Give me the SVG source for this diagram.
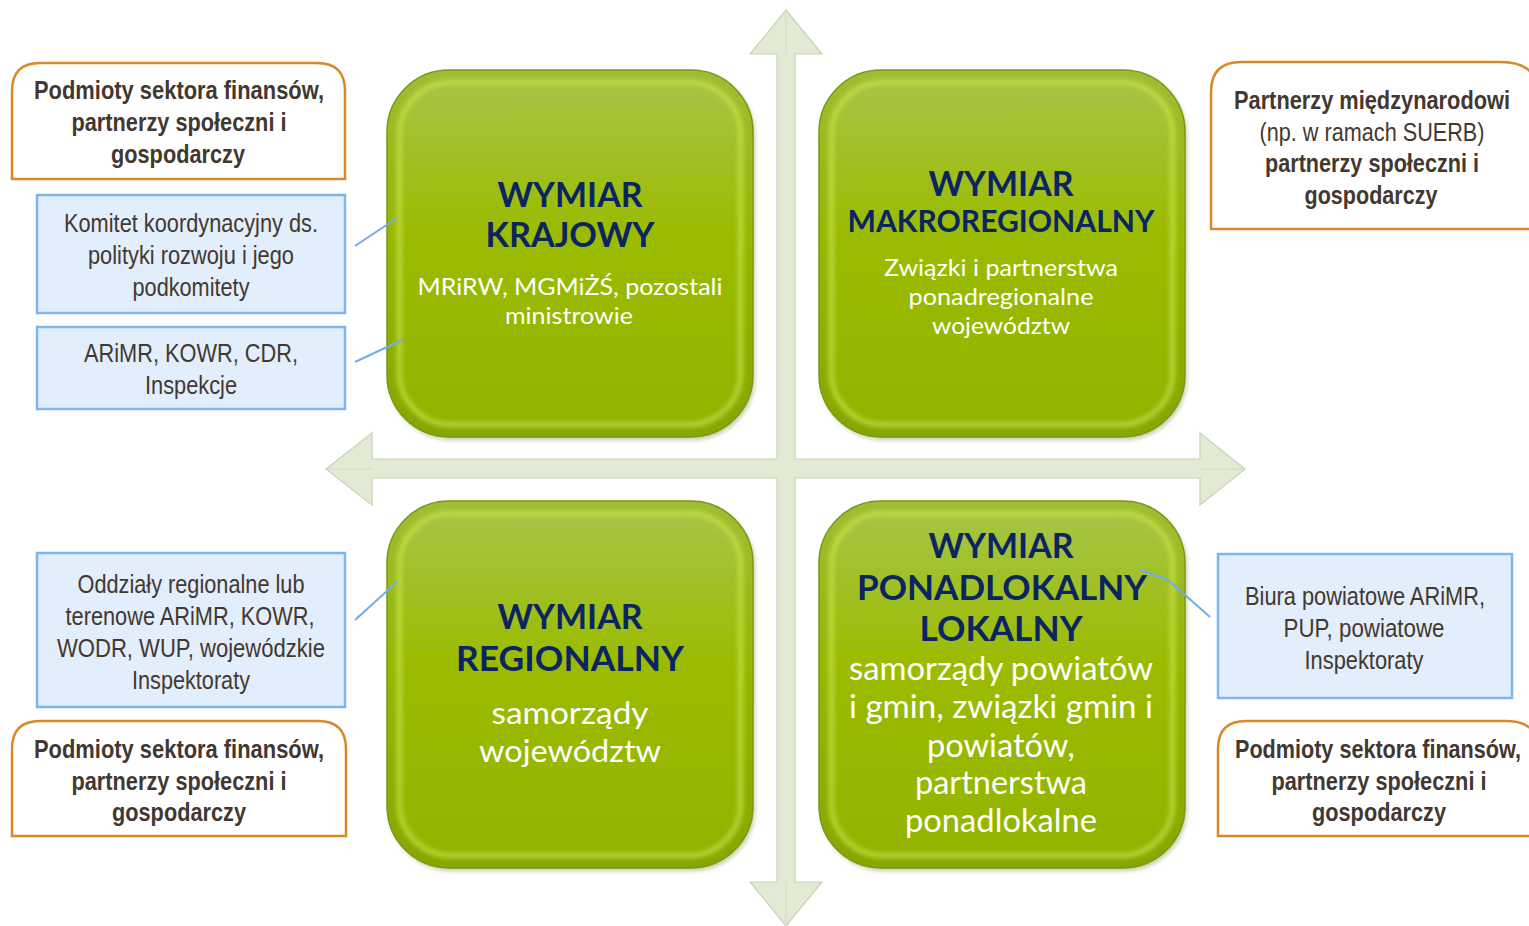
<svg xmlns="http://www.w3.org/2000/svg" width="1529" height="926" viewBox="0 0 1529 926">
<defs>
<linearGradient id="gOuter" x1="0" y1="0" x2="0" y2="1">
<stop offset="0" stop-color="#9fbd35"/>
<stop offset="0.5" stop-color="#95b600"/>
<stop offset="1" stop-color="#86a600"/>
</linearGradient>
<linearGradient id="gInner" x1="0" y1="0" x2="0" y2="1">
<stop offset="0" stop-color="#a6c445"/>
<stop offset="0.45" stop-color="#9bbb00"/>
<stop offset="1" stop-color="#93b400"/>
</linearGradient>
<filter id="blur" x="-10%" y="-10%" width="120%" height="120%"><feGaussianBlur stdDeviation="2.5"/></filter>
<filter id="shadow" x="-10%" y="-10%" width="120%" height="120%"><feGaussianBlur stdDeviation="2"/></filter>
<style>
.side{font-family:"Liberation Sans",Arial,sans-serif;font-size:26px;fill:#433830;text-anchor:middle}
.b{font-weight:bold}
.ttl{font-family:Lato,"Open Sans",sans-serif;font-weight:bold;fill:#0b2562;text-anchor:middle}
.sub{font-family:Lato,"Open Sans",sans-serif;fill:#ffffff;text-anchor:middle}
.orange{fill:#ffffff;stroke:#d9892a;stroke-width:2.5}
.blue{fill:#e2eefb;stroke:#7db5ee;stroke-width:2.5}
.conn{fill:none;stroke:#72aceb;stroke-width:2}
.arrow{fill:#e3ead4;stroke:#c9d1bc;stroke-width:1.2}
.ridge{stroke:#d3dbc3;stroke-width:1;fill:none}
.gout{fill:url(#gOuter);stroke:#7b9815;stroke-width:1.5}
.gin{fill:url(#gInner);stroke:#d6f04e;stroke-width:4;stroke-opacity:0.7}
</style>
</defs>
<rect width="1529" height="926" fill="#ffffff"/>

<g id="axes">
<path class="arrow" d="M786,10 L822,54 L795,54 L795,459 L1200,459 L1200,433 L1245,469 L1200,505 L1200,478 L795,478 L795,882 L822,882 L786,926 L750,882 L777,882 L777,478 L372,478 L372,505 L326,469 L372,433 L372,459 L777,459 L777,54 L750,54 Z"/>
<path class="ridge" d="M786,12 L786,54 M786,924 L786,882 M328,469 L372,469 M1243,469 L1200,469"/>
</g>

<g id="box-krajowy">
<rect x="389" y="73" width="366" height="367" rx="62" fill="#5a6e10" opacity="0.35" filter="url(#shadow)"/>
<rect class="gout" x="387" y="70" width="366" height="367" rx="62"/>
<rect class="gin" x="399" y="82" width="342" height="343" rx="52" filter="url(#blur)"/>
<text class="ttl" x="570" y="207" font-size="35" textLength="145" lengthAdjust="spacingAndGlyphs">WYMIAR</text>
<text class="ttl" x="570" y="247" font-size="35" textLength="169" lengthAdjust="spacingAndGlyphs">KRAJOWY</text>
<text class="sub" x="570" y="295" font-size="24" textLength="305" lengthAdjust="spacingAndGlyphs">MRiRW, MGMiŻŚ, pozostali</text>
<text class="sub" x="569" y="324" font-size="24" textLength="128" lengthAdjust="spacingAndGlyphs">ministrowie</text>
</g>

<g id="box-makroregionalny">
<rect x="821" y="73" width="366" height="367" rx="62" fill="#5a6e10" opacity="0.35" filter="url(#shadow)"/>
<rect class="gout" x="819" y="70" width="366" height="367" rx="62"/>
<rect class="gin" x="831" y="82" width="342" height="343" rx="52" filter="url(#blur)"/>
<text class="ttl" x="1001" y="196" font-size="34" textLength="145" lengthAdjust="spacingAndGlyphs">WYMIAR</text>
<text class="ttl" x="1001" y="232" font-size="30" textLength="307" lengthAdjust="spacingAndGlyphs">MAKROREGIONALNY</text>
<text class="sub" x="1001" y="276" font-size="23" textLength="234" lengthAdjust="spacingAndGlyphs">Związki i partnerstwa</text>
<text class="sub" x="1001" y="305" font-size="23" textLength="185" lengthAdjust="spacingAndGlyphs">ponadregionalne</text>
<text class="sub" x="1001" y="334" font-size="23" textLength="138" lengthAdjust="spacingAndGlyphs">województw</text>
</g>

<g id="box-regionalny">
<rect x="389" y="504" width="366" height="367" rx="62" fill="#5a6e10" opacity="0.35" filter="url(#shadow)"/>
<rect class="gout" x="387" y="501" width="366" height="367" rx="62"/>
<rect class="gin" x="399" y="513" width="342" height="343" rx="52" filter="url(#blur)"/>
<text class="ttl" x="570" y="629" font-size="35" textLength="145" lengthAdjust="spacingAndGlyphs">WYMIAR</text>
<text class="ttl" x="570" y="671" font-size="35" textLength="228" lengthAdjust="spacingAndGlyphs">REGIONALNY</text>
<text class="sub" x="570" y="724" font-size="31" textLength="157" lengthAdjust="spacingAndGlyphs">samorządy</text>
<text class="sub" x="570" y="762" font-size="31" textLength="182" lengthAdjust="spacingAndGlyphs">województw</text>
</g>

<g id="box-ponadlokalny">
<rect x="821" y="504" width="366" height="367" rx="62" fill="#5a6e10" opacity="0.35" filter="url(#shadow)"/>
<rect class="gout" x="819" y="501" width="366" height="367" rx="62"/>
<rect class="gin" x="831" y="513" width="342" height="343" rx="52" filter="url(#blur)"/>
<text class="ttl" x="1001" y="558" font-size="35" textLength="145" lengthAdjust="spacingAndGlyphs">WYMIAR</text>
<text class="ttl" x="1002" y="600" font-size="35" textLength="290" lengthAdjust="spacingAndGlyphs">PONADLOKALNY</text>
<text class="ttl" x="1001" y="641" font-size="35" textLength="163" lengthAdjust="spacingAndGlyphs">LOKALNY</text>
<text class="sub" x="1001" y="680" font-size="32" textLength="304" lengthAdjust="spacingAndGlyphs">samorządy powiatów</text>
<text class="sub" x="1001" y="718" font-size="32" textLength="304" lengthAdjust="spacingAndGlyphs">i gmin, związki gmin i</text>
<text class="sub" x="1001" y="757" font-size="32" textLength="148" lengthAdjust="spacingAndGlyphs">powiatów,</text>
<text class="sub" x="1001" y="794" font-size="32" textLength="172" lengthAdjust="spacingAndGlyphs">partnerstwa</text>
<text class="sub" x="1001" y="832" font-size="32" textLength="192" lengthAdjust="spacingAndGlyphs">ponadlokalne</text>
</g>

<g id="tl-partners">
<path class="orange" d="M12,179 L12,91 Q12,63 40,63 L317,63 Q345,63 345,91 L345,179 Z"/>
<text class="side b" x="179" y="99" textLength="290" lengthAdjust="spacingAndGlyphs">Podmioty sektora finansów,</text>
<text class="side b" x="179" y="131" textLength="215" lengthAdjust="spacingAndGlyphs">partnerzy społeczni i</text>
<text class="side b" x="178" y="163" textLength="134" lengthAdjust="spacingAndGlyphs">gospodarczy</text>
</g>

<g id="tl-komitet">
<rect class="blue" x="37" y="195" width="308" height="118"/>
<text class="side" x="191" y="232" textLength="254" lengthAdjust="spacingAndGlyphs">Komitet koordynacyjny ds.</text>
<text class="side" x="191" y="264" textLength="206" lengthAdjust="spacingAndGlyphs">polityki rozwoju i jego</text>
<text class="side" x="191" y="296" textLength="117" lengthAdjust="spacingAndGlyphs">podkomitety</text>
</g>

<g id="tl-arimr">
<rect class="blue" x="37" y="327" width="308" height="82"/>
<text class="side" x="191" y="362" textLength="214" lengthAdjust="spacingAndGlyphs">ARiMR, KOWR, CDR,</text>
<text class="side" x="191" y="394" textLength="92" lengthAdjust="spacingAndGlyphs">Inspekcje</text>
</g>

<g id="tr-partners">
<path class="orange" d="M1211,229 L1211,92 Q1211,62 1241,62 L1500,62 Q1529,62 1535,80 L1535,229 Z"/>
<text class="side b" x="1372" y="109" textLength="276" lengthAdjust="spacingAndGlyphs">Partnerzy międzynarodowi</text>
<text class="side" x="1372" y="141" textLength="225" lengthAdjust="spacingAndGlyphs">(np. w ramach SUERB)</text>
<text class="side b" x="1372" y="172" textLength="214" lengthAdjust="spacingAndGlyphs">partnerzy społeczni i</text>
<text class="side b" x="1371" y="204" textLength="133" lengthAdjust="spacingAndGlyphs">gospodarczy</text>
</g>

<g id="bl-oddzialy">
<rect class="blue" x="37" y="553" width="308" height="154"/>
<text class="side" x="191" y="593" textLength="227" lengthAdjust="spacingAndGlyphs">Oddziały regionalne lub</text>
<text class="side" x="190" y="625" textLength="249" lengthAdjust="spacingAndGlyphs">terenowe ARiMR, KOWR,</text>
<text class="side" x="191" y="657" textLength="268" lengthAdjust="spacingAndGlyphs">WODR, WUP, wojewódzkie</text>
<text class="side" x="191" y="689" textLength="118" lengthAdjust="spacingAndGlyphs">Inspektoraty</text>
</g>

<g id="bl-partners">
<path class="orange" d="M12,836 L12,749 Q12,721 40,721 L318,721 Q346,721 346,749 L346,836 Z"/>
<text class="side b" x="179" y="758" textLength="290" lengthAdjust="spacingAndGlyphs">Podmioty sektora finansów,</text>
<text class="side b" x="179" y="790" textLength="215" lengthAdjust="spacingAndGlyphs">partnerzy społeczni i</text>
<text class="side b" x="179" y="821" textLength="134" lengthAdjust="spacingAndGlyphs">gospodarczy</text>
</g>

<g id="br-biura">
<rect class="blue" x="1218" y="554" width="294" height="144"/>
<text class="side" x="1365" y="605" textLength="240" lengthAdjust="spacingAndGlyphs">Biura powiatowe ARiMR,</text>
<text class="side" x="1364" y="637" textLength="161" lengthAdjust="spacingAndGlyphs">PUP, powiatowe</text>
<text class="side" x="1364" y="669" textLength="119" lengthAdjust="spacingAndGlyphs">Inspektoraty</text>
</g>

<g id="br-partners">
<path class="orange" d="M1218,836 L1218,749 Q1218,721 1246,721 L1505,721 Q1529,721 1535,735 L1535,836 Z"/>
<text class="side b" x="1378" y="758" textLength="286" lengthAdjust="spacingAndGlyphs">Podmioty sektora finansów,</text>
<text class="side b" x="1379" y="790" textLength="215" lengthAdjust="spacingAndGlyphs">partnerzy społeczni i</text>
<text class="side b" x="1379" y="821" textLength="134" lengthAdjust="spacingAndGlyphs">gospodarczy</text>
</g>

<g id="connectors">
<line class="conn" x1="355" y1="246" x2="397" y2="218"/>
<line class="conn" x1="355" y1="362" x2="402" y2="340"/>
<line class="conn" x1="355" y1="620" x2="397" y2="582"/>
<polyline class="conn" points="1140,570 1168,580 1210,617"/>
</g>
</svg>
